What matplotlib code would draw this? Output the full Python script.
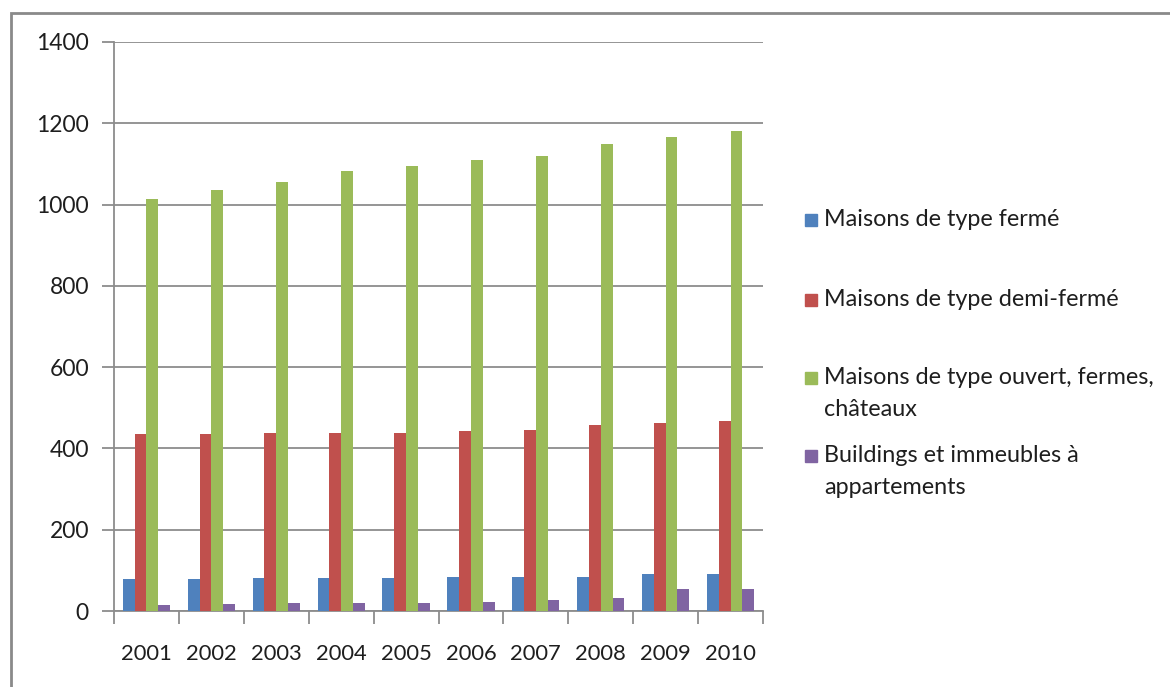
import numpy as np
import matplotlib.pyplot as plt
from matplotlib.patches import Rectangle

plt.rcParams['font.family'] = ['Lato', 'DejaVu Sans']

years = ['2001', '2002', '2003', '2004', '2005', '2006', '2007', '2008', '2009', '2010']
ferme = [78, 78, 81, 81, 81, 84, 84, 84, 90, 90]
demi_ferme = [435, 435, 439, 439, 439, 442, 445, 457, 463, 467]
ouvert = [1014, 1037, 1055, 1083, 1095, 1110, 1120, 1148, 1166, 1181]
buildings = [14, 17, 20, 20, 20, 23, 26, 32, 53, 53]

series = [
    ('Maisons de type fermé', ferme, '#4F81BD'),
    ('Maisons de type demi-fermé', demi_ferme, '#C0504D'),
    ('Maisons de type ouvert, fermes,\nchâteaux', ouvert, '#9BBB59'),
    ('Buildings et immeubles à\nappartements', buildings, '#8064A2'),
]

W, H = 1170, 687
fig = plt.figure(figsize=(W / 100, H / 100), dpi=100)
ax = fig.add_axes([114 / W, 1 - 611 / H, (763 - 114) / W, (611 - 42) / H])

# outer chart border (left and top visible)
fig.patches.append(Rectangle((11 / W, -0.1), 1.1, 1.1 - 13 / H, transform=fig.transFigure,
                             fill=False, edgecolor='#8a8a8a', linewidth=2, zorder=0))

x = np.arange(len(years))
w = 1 / 5.5
for i, (name, vals, col) in enumerate(series):
    ax.bar(x + (i - 1.5) * w, vals, width=w, color=col, label=name, zorder=3)

ax.set_xlim(-0.5, len(years) - 0.5)
ax.set_ylim(0, 1400)
ax.set_yticks(range(0, 1401, 200))
ax.yaxis.grid(True, color='#8c8c8c', linewidth=1.3, zorder=0)

ax.set_xticks(x)
ax.set_xticklabels(years)
ax.set_xticks(np.arange(-0.5, len(years)), minor=True)
ax.tick_params(axis='x', which='major', length=0, pad=24, labelsize=15.8, colors='#1e1e1e')
ax.tick_params(axis='x', which='minor', length=9, width=1.3, color='#8c8c8c')
ax.tick_params(axis='y', length=9, width=1.3, color='#8c8c8c', pad=9, labelsize=16.5,
               labelcolor='#1e1e1e')

for s in ['top', 'right']:
    ax.spines[s].set_visible(False)
for s in ['left', 'bottom']:
    ax.spines[s].set_color('#8c8c8c')
    ax.spines[s].set_linewidth(1.3)

# legend, Excel style: marker sits on the first line of each entry
row_y = [220, 300, 378, 456]
line_gap = 32
for (name, vals, col), yy in zip(series, row_y):
    fig.patches.append(Rectangle((805 / W, 1 - (yy + 6) / H), 12 / W, 12 / H,
                                 transform=fig.transFigure, color=col))
    for k, line in enumerate(name.split('\n')):
        fig.text(824 / W, 1 - (yy + k * line_gap) / H, line, fontsize=16.8,
                 color='#1e1e1e', va='center', ha='left')

fig.savefig('out.png', dpi=100)
